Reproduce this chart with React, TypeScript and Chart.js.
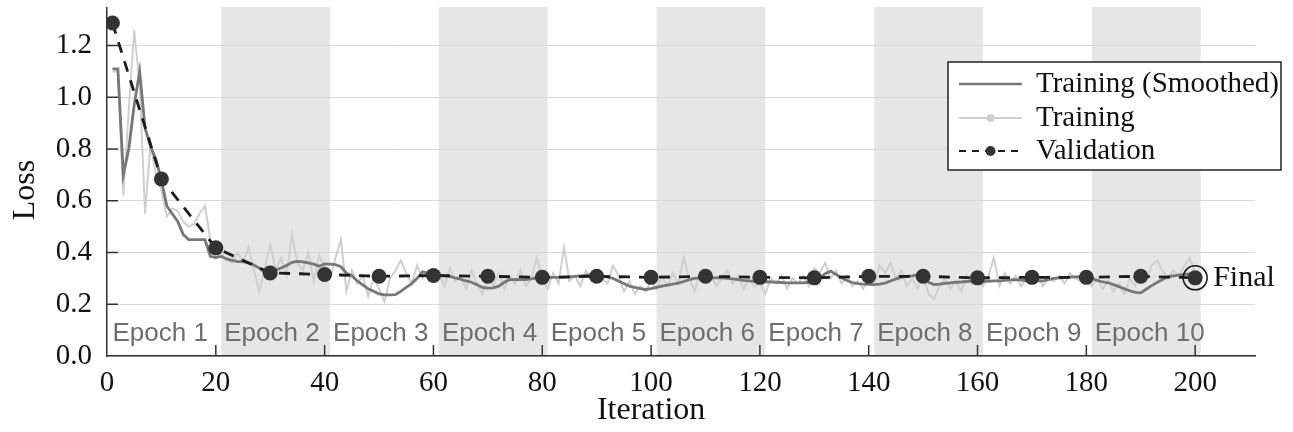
import { useEffect, useRef } from 'react';
import { Chart, registerables } from 'chart.js';

Chart.register(...registerables);

// Training loss (smoothed), iterations 1..200
const trainingSmoothed = [
  1.11, 1.11, 0.70, 0.80, 0.97, 1.10, 0.88, 0.81, 0.76, 0.68,
  0.58, 0.55, 0.52, 0.47, 0.45, 0.45, 0.45, 0.45, 0.385, 0.38,
  0.385, 0.375, 0.37, 0.365, 0.365, 0.36, 0.352, 0.34, 0.322, 0.325,
  0.332, 0.34, 0.35, 0.362, 0.366, 0.364, 0.36, 0.355, 0.347, 0.356,
  0.355, 0.353, 0.345, 0.32, 0.31, 0.29, 0.275, 0.26, 0.25, 0.24,
  0.236, 0.236, 0.237, 0.25, 0.265, 0.28, 0.30, 0.325, 0.32, 0.315,
  0.312, 0.31, 0.308, 0.302, 0.297, 0.29, 0.285, 0.275, 0.265, 0.262,
  0.263, 0.27, 0.285, 0.295, 0.296, 0.295, 0.295, 0.298, 0.302, 0.304,
  0.304, 0.304, 0.304, 0.305, 0.306, 0.308, 0.31, 0.312, 0.314, 0.315,
  0.31, 0.305, 0.30, 0.29, 0.28, 0.27, 0.265, 0.26, 0.257, 0.26,
  0.265, 0.27, 0.274, 0.278, 0.282, 0.288, 0.295, 0.30, 0.302, 0.302,
  0.302, 0.302, 0.302, 0.30, 0.298, 0.295, 0.292, 0.29, 0.289, 0.288,
  0.287, 0.286, 0.285, 0.284, 0.283, 0.283, 0.283, 0.283, 0.285, 0.292,
  0.302, 0.318, 0.328, 0.315, 0.302, 0.292, 0.284, 0.28, 0.278, 0.277,
  0.276, 0.278, 0.282, 0.29, 0.298, 0.304, 0.308, 0.31, 0.314, 0.305,
  0.285, 0.276, 0.278, 0.281, 0.283, 0.285, 0.286, 0.288, 0.289, 0.289,
  0.289, 0.289, 0.29, 0.29, 0.292, 0.294, 0.295, 0.293, 0.291, 0.29,
  0.29, 0.29, 0.295, 0.30, 0.302, 0.303, 0.305, 0.306, 0.307, 0.308,
  0.30, 0.292, 0.286, 0.283, 0.276, 0.268, 0.26, 0.252, 0.246, 0.244,
  0.258, 0.272, 0.284, 0.296, 0.306, 0.31, 0.313, 0.315, 0.317, 0.316,
];

// Training loss (raw), iterations 1..200
const trainingRaw = [
  1.10, 1.10, 0.62, 0.95, 1.26, 1.05, 0.55, 0.82, 0.70, 0.64,
  0.54, 0.57, 0.56, 0.52, 0.50, 0.51, 0.55, 0.58, 0.45, 0.38,
  0.40, 0.37, 0.36, 0.40, 0.36, 0.42, 0.33, 0.25, 0.34, 0.43,
  0.33, 0.38, 0.31, 0.47, 0.36, 0.33, 0.40, 0.29, 0.39, 0.34,
  0.30, 0.38, 0.45, 0.25, 0.33, 0.28, 0.31, 0.23, 0.30, 0.26,
  0.21, 0.30, 0.33, 0.37, 0.32, 0.28, 0.35, 0.30, 0.33, 0.30,
  0.32, 0.27, 0.34, 0.29, 0.31, 0.26, 0.33, 0.28, 0.24, 0.30,
  0.27, 0.32, 0.26, 0.31, 0.28, 0.33, 0.27, 0.30, 0.38, 0.30,
  0.26, 0.32, 0.28, 0.42, 0.29, 0.31, 0.27, 0.33, 0.29, 0.32,
  0.30, 0.28, 0.35, 0.31, 0.25, 0.29, 0.24, 0.27, 0.25, 0.29,
  0.26, 0.31, 0.27, 0.32, 0.28, 0.38, 0.30, 0.25, 0.32, 0.29,
  0.31, 0.27, 0.30, 0.33, 0.28, 0.31, 0.26, 0.30, 0.27, 0.28,
  0.24, 0.30, 0.28, 0.31, 0.26, 0.30, 0.28, 0.31, 0.27, 0.34,
  0.32, 0.36, 0.30, 0.33, 0.28, 0.31, 0.27, 0.29, 0.26, 0.30,
  0.28, 0.35, 0.32, 0.36, 0.30, 0.33, 0.27, 0.30, 0.26, 0.31,
  0.24, 0.22, 0.27, 0.30, 0.26, 0.29, 0.25, 0.31, 0.28, 0.30,
  0.27, 0.31, 0.38, 0.27, 0.32, 0.28, 0.31, 0.27, 0.30, 0.28,
  0.32, 0.27, 0.30, 0.29, 0.31, 0.28, 0.32, 0.30, 0.29, 0.31,
  0.27, 0.30, 0.26, 0.29, 0.25, 0.28, 0.24, 0.30, 0.27, 0.33,
  0.29, 0.35, 0.37, 0.33, 0.30, 0.33, 0.31, 0.35, 0.38, 0.32,
];

const validationIterations = [1, 10, 20, 30, 40, 50, 60, 70, 80, 90, 100, 110, 120, 130, 140, 150, 160, 170, 180, 190, 200];
const validationLoss = [1.287, 0.684, 0.418, 0.321, 0.315, 0.308, 0.311, 0.308, 0.304, 0.308, 0.304, 0.308, 0.304, 0.302, 0.308, 0.308, 0.302, 0.304, 0.304, 0.308, 0.302];

const xTickValues = [0, 20, 40, 60, 80, 100, 120, 140, 160, 180, 200];
const yTickValues = [0, 0.2, 0.4, 0.6, 0.8, 1.0, 1.2];
const epochLabels = ['Epoch 1', 'Epoch 2', 'Epoch 3', 'Epoch 4', 'Epoch 5', 'Epoch 6', 'Epoch 7', 'Epoch 8', 'Epoch 9', 'Epoch 10'];
const epochStarts = [1, 21, 41, 61, 81, 101, 121, 141, 161, 181];
const shadedBands = [[21, 41], [61, 81], [101, 121], [141, 161], [181, 201]];
const legendLabels = ['Training (Smoothed)', 'Training', 'Validation'];
const xTitle = 'Iteration';
const yTitle = 'Loss';
const finalLabel = 'Final';

const SERIF = '"Liberation Serif", "Times New Roman", serif';
const SANS = '"Liberation Sans", Arial, sans-serif';
const COL_SMOOTH = '#777777';
const COL_RAW = '#cfcfcf';
const COL_VAL = '#1c1c1c';
const COL_VAL_PT = '#333333';

const decorPlugin = {
  id: 'decor',
  beforeDraw(chart: any) {
    const { ctx, chartArea, scales } = chart;
    const xs = scales.x;
    ctx.save();
    ctx.fillStyle = '#e6e6e6';
    for (const [a, b] of shadedBands) {
      const x0 = xs.getPixelForValue(a);
      const x1 = xs.getPixelForValue(b);
      ctx.fillRect(x0, chartArea.top - 1, x1 - x0, chartArea.bottom - chartArea.top + 1);
    }
    ctx.restore();
  },
  afterDraw(chart: any) {
    const { ctx, chartArea, scales } = chart;
    const xs = scales.x;
    const ys = scales.y;
    ctx.save();
    ctx.strokeStyle = '#333';
    ctx.lineWidth = 1.5;
    for (const v of yTickValues) {
      if (v === 0) continue;
      const y = ys.getPixelForValue(v);
      ctx.beginPath();
      ctx.moveTo(chartArea.left, y);
      ctx.lineTo(chartArea.left + 11, y);
      ctx.stroke();
    }
    for (const v of xTickValues) {
      if (v === 0) continue;
      const x = xs.getPixelForValue(v);
      ctx.beginPath();
      ctx.moveTo(x, chartArea.bottom);
      ctx.lineTo(x, chartArea.bottom - 11);
      ctx.stroke();
    }
    ctx.fillStyle = '#6e6e6e';
    ctx.font = `26px ${SANS}`;
    ctx.textAlign = 'left';
    ctx.textBaseline = 'alphabetic';
    epochLabels.forEach((lab, i) => {
      const x = xs.getPixelForValue(epochStarts[i]) + (i === 0 ? 0 : 3);
      ctx.fillText(lab, x, chartArea.bottom - 15);
    });
    ctx.fillStyle = '#111';
    ctx.font = `32px ${SERIF}`;
    ctx.textAlign = 'center';
    ctx.textBaseline = 'middle';
    ctx.fillText(xTitle, (xs.getPixelForValue(0) + xs.getPixelForValue(200)) / 2, 411);
    ctx.save();
    ctx.translate(26, 190);
    ctx.rotate(-Math.PI / 2);
    ctx.fillText(yTitle, 0, 0);
    ctx.restore();
    const fx = xs.getPixelForValue(validationIterations[validationIterations.length - 1]);
    const fy = ys.getPixelForValue(validationLoss[validationLoss.length - 1]);
    ctx.strokeStyle = '#111';
    ctx.lineWidth = 1.5;
    ctx.beginPath();
    ctx.arc(fx, fy, 12, 0, Math.PI * 2);
    ctx.stroke();
    ctx.font = `30px ${SERIF}`;
    ctx.textAlign = 'left';
    ctx.fillText(finalLabel, fx + 18, fy);
    const L = 948, T = 62, R = 1281, B = 170;
    ctx.fillStyle = '#fff';
    ctx.fillRect(L, T, R - L, B - T);
    ctx.strokeStyle = '#222';
    ctx.lineWidth = 1.5;
    ctx.strokeRect(L, T, R - L, B - T);
    const rows = [84, 118, 151];
    const sx0 = 959, sx1 = 1022;
    ctx.strokeStyle = COL_SMOOTH;
    ctx.lineWidth = 2.5;
    ctx.beginPath(); ctx.moveTo(sx0, rows[0]); ctx.lineTo(sx1, rows[0]); ctx.stroke();
    ctx.strokeStyle = COL_RAW;
    ctx.lineWidth = 2;
    ctx.beginPath(); ctx.moveTo(sx0, rows[1]); ctx.lineTo(sx1, rows[1]); ctx.stroke();
    ctx.fillStyle = COL_RAW;
    ctx.beginPath(); ctx.arc((sx0 + sx1) / 2, rows[1], 4, 0, Math.PI * 2); ctx.fill();
    ctx.strokeStyle = COL_VAL;
    ctx.lineWidth = 2;
    ctx.setLineDash([7, 6]);
    ctx.beginPath(); ctx.moveTo(sx0, rows[2]); ctx.lineTo(sx1, rows[2]); ctx.stroke();
    ctx.setLineDash([]);
    ctx.fillStyle = COL_VAL_PT;
    ctx.beginPath(); ctx.arc((sx0 + sx1) / 2, rows[2], 5, 0, Math.PI * 2); ctx.fill();
    ctx.fillStyle = '#111';
    ctx.font = `29px ${SERIF}`;
    ctx.textAlign = 'left';
    ctx.textBaseline = 'middle';
    legendLabels.forEach((lab, i) => ctx.fillText(lab, 1036, rows[i]));
    ctx.restore();
  },
};

export default function App() {
  const ref = useRef<HTMLCanvasElement | null>(null);
  useEffect(() => {
    document.body.style.margin = '0';
    const canvas = ref.current;
    if (!canvas) return;
    const iters = trainingSmoothed.map((_, i) => i + 1);
    const chart = new Chart(canvas, {
      type: 'line',
      data: {
        datasets: [
          {
            label: legendLabels[2],
            data: validationIterations.map((x, i) => ({ x, y: validationLoss[i] })),
            borderColor: COL_VAL,
            borderWidth: 2.8,
            borderDash: [11, 9],
            pointRadius: 7.5,
            pointBackgroundColor: COL_VAL_PT,
            pointBorderColor: COL_VAL_PT,
            pointBorderWidth: 0,
            fill: false,
          },
          {
            label: legendLabels[0],
            data: iters.map((x, i) => ({ x, y: trainingSmoothed[i] })),
            borderColor: COL_SMOOTH,
            borderWidth: 2.8,
            pointRadius: 0,
            fill: false,
          },
          {
            label: legendLabels[1],
            data: iters.map((x, i) => ({ x, y: trainingRaw[i] })),
            borderColor: COL_RAW,
            borderWidth: 2,
            pointRadius: 0,
            fill: false,
          },
        ],
      },
      options: {
        animation: false,
        responsive: true,
        maintainAspectRatio: false,
        layout: { padding: { top: 8, right: 38, left: 0, bottom: 0 } },
        plugins: { legend: { display: false }, tooltip: { enabled: false } },
        scales: {
          x: {
            type: 'linear',
            min: 0,
            max: 211,
            afterBuildTicks: (s: any) => { s.ticks = xTickValues.map((v) => ({ value: v })); },
            afterFit: (s: any) => { s.height = 76; s.paddingLeft = 0; s.paddingRight = 0; },
            grid: { display: false, drawTicks: false },
            border: { display: true, color: '#333', width: 1.5 },
            ticks: {
              padding: 10,
              color: '#111',
              font: { family: SERIF, size: 29 },
              maxRotation: 0,
              autoSkip: false,
              callback: (v: any) => String(v),
            },
          },
          y: {
            type: 'linear',
            min: 0,
            max: 1.345,
            afterBuildTicks: (s: any) => { s.ticks = yTickValues.map((v) => ({ value: v })); },
            afterFit: (s: any) => { s.width = 107; s.paddingTop = 0; s.paddingBottom = 0; },
            grid: { color: '#d8d8d8', lineWidth: 1, drawTicks: false },
            border: { display: true, color: '#333', width: 1.5 },
            ticks: {
              padding: 15,
              color: '#111',
              font: { family: SERIF, size: 29 },
              autoSkip: false,
              callback: (v: any) => Number(v).toFixed(1),
            },
          },
        },
      } as any,
      plugins: [decorPlugin],
    });
    return () => chart.destroy();
  }, []);
  return (
    <div style={{ position: 'relative', width: '1293px', height: '432px' }}>
      <canvas ref={ref} />
    </div>
  );
}
